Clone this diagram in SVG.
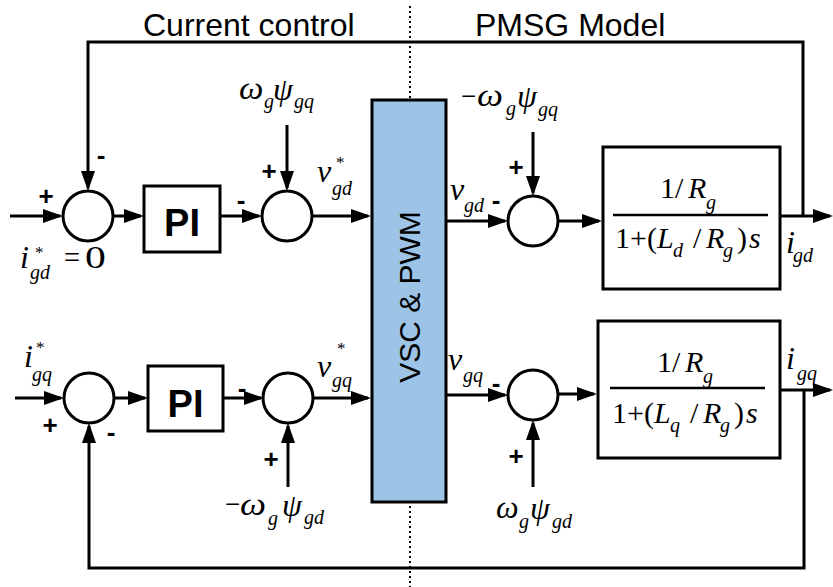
<svg xmlns="http://www.w3.org/2000/svg" width="833" height="587" viewBox="0 0 833 587">
<style>
.ln{stroke:#000;stroke-width:3;fill:none}
.ar{marker-end:url(#ah)}
.sum{fill:#fff;stroke:#000;stroke-width:3}
.box{fill:#fff;stroke:#000;stroke-width:3}
.frac{stroke:#000;stroke-width:2.5}
.sign{font-family:"Liberation Sans",Arial,sans-serif;font-weight:bold;font-size:26px;text-anchor:middle}
.ttl{font-family:"Liberation Sans",Arial,sans-serif;font-size:32px}
.pi{font-family:"Liberation Sans",Arial,sans-serif;font-weight:bold;font-size:38px;text-anchor:middle}
.m{font-family:"Liberation Serif","Times New Roman",serif;font-style:italic;font-size:32px}
.w{font-family:"Liberation Serif","Times New Roman",serif;font-style:italic;font-size:32px}
.f{font-family:"Liberation Serif","Times New Roman",serif;font-style:italic;font-size:30px}
.up{font-style:normal}
.sub{font-size:20px}
.st{font-size:17px;font-style:normal}
.mn{font-family:"Liberation Serif","Times New Roman",serif;font-size:27px}
</style>
<defs>
<marker id="ah" markerUnits="userSpaceOnUse" markerWidth="20" markerHeight="14" refX="17" refY="7" orient="auto">
<path d="M0,0 L20,7 L0,14 Z" fill="#000"/>
</marker>
</defs>
<rect width="833" height="587" fill="#fff"/>

<g id="titles">
<text class="ttl" x="143" y="36">Current control</text>
<text class="ttl" x="475" y="36">PMSG Model</text>
</g>
<g id="divider">
<line x1="410" y1="6" x2="410" y2="587" stroke="#000" stroke-width="2" stroke-dasharray="2 3"/>
</g>

<g id="connectors">
<path class="ln ar" d="M10,216 H60"/>
<path class="ln ar" d="M113,216 H141"/>
<path class="ln ar" d="M220,216 H259"/>
<path class="ln ar" d="M312,216 H368"/>
<path class="ln ar" d="M287,125 V188"/>
<path class="ln ar" d="M446,221 H505"/>
<path class="ln ar" d="M533,132 V193"/>
<path class="ln ar" d="M558,221 H599"/>
<path class="ln ar" d="M780,216 H830"/>
<path class="ln ar" d="M803,216 V42 H88 V188"/>
<path class="ln ar" d="M15,398 H61"/>
<path class="ln ar" d="M114,398 H145"/>
<path class="ln ar" d="M223,398 H261"/>
<path class="ln ar" d="M314,398 H368"/>
<path class="ln ar" d="M288,487 V426"/>
<path class="ln ar" d="M446,395 H505"/>
<path class="ln ar" d="M533,487 V423"/>
<path class="ln ar" d="M558,394 H594"/>
<path class="ln ar" d="M780,390 H830"/>
<path class="ln ar" d="M804,390 V568 H89 V426"/>
</g>

<g id="sum1"><circle class="sum" cx="88" cy="216" r="25"/></g>
<g id="sum2"><circle class="sum" cx="287" cy="216" r="25"/></g>
<g id="sum3"><circle class="sum" cx="533" cy="221" r="25"/></g>
<g id="sum4"><circle class="sum" cx="89" cy="398" r="25"/></g>
<g id="sum5"><circle class="sum" cx="288" cy="398" r="25"/></g>
<g id="sum6"><circle class="sum" cx="533" cy="395" r="25"/></g>

<g id="pi-d"><rect class="box" x="144" y="186" width="76" height="66"/><text class="pi" x="182" y="236">PI</text></g>
<g id="pi-q"><rect class="box" x="148" y="366" width="75" height="65"/><text class="pi" x="185.5" y="417">PI</text></g>

<g id="vsc">
<rect x="372" y="100" width="74" height="402" fill="#9DC3E6" stroke="#000" stroke-width="3"/>
<text class="ttl" style="font-size:30px" text-anchor="middle" transform="translate(420,297) rotate(-90)">VSC &amp; PWM</text>
</g>

<g id="tf-d">
<rect class="box" x="603" y="147" width="177" height="142"/>
<text class="f"><tspan class="up" x="660" y="198">1/</tspan><tspan x="688" y="198">R</tspan><tspan class="sub" x="706" y="209">g</tspan></text>
<line class="frac" x1="613" y1="215" x2="768" y2="215"/>
<text class="f"><tspan class="up" x="615" y="248">1+(</tspan><tspan x="657" y="248">L</tspan><tspan class="sub" x="673" y="257">d</tspan><tspan class="up" x="693" y="248">/</tspan><tspan x="706" y="248">R</tspan><tspan class="sub" x="723" y="257">g</tspan><tspan class="up" x="737" y="248">)</tspan><tspan x="749" y="248">s</tspan></text>
</g>

<g id="tf-q">
<rect class="box" x="598" y="321" width="182" height="137"/>
<g transform="translate(-3,174)">
<text class="f"><tspan class="up" x="660" y="198">1/</tspan><tspan x="688" y="198">R</tspan><tspan class="sub" x="706" y="209">g</tspan></text>
<line class="frac" x1="613" y1="214" x2="768" y2="214"/>
<text class="f"><tspan class="up" x="615" y="249">1+(</tspan><tspan x="657" y="249">L</tspan><tspan class="sub" x="673" y="258">q</tspan><tspan class="up" x="693" y="249">/</tspan><tspan x="706" y="249">R</tspan><tspan class="sub" x="723" y="258">g</tspan><tspan class="up" x="737" y="249">)</tspan><tspan x="749" y="249">s</tspan></text>
</g>
</g>

<g id="label-wgpsigq-top">
<text class="w" transform="translate(239,99) scale(1.08,1)">ω</text>
<text class="m sub" x="264" y="108">g</text>
<text class="m" x="273" y="100">ψ</text>
<text class="m sub" x="294" y="108">gq</text>
</g>
<g id="label-mwgpsigq">
<text class="mn" x="461" y="105">−</text>
<text class="w" transform="translate(477,106) scale(1.15,1)">ω</text>
<text class="m sub" x="506" y="115">g</text>
<text class="m" x="517" y="107">ψ</text>
<text class="m sub" x="538" y="116">gq</text>
</g>
<g id="label-mwgpsigd">
<text class="mn" x="225" y="513">−</text>
<text class="w" transform="translate(240,515) scale(1.15,1)">ω</text>
<text class="m sub" x="268" y="525">g</text>
<text class="m" x="282" y="516">ψ</text>
<text class="m sub" x="304" y="524">gd</text>
</g>
<g id="label-wgpsigd">
<text class="w" transform="translate(496,518)">ω</text>
<text class="m sub" x="519" y="528">g</text>
<text class="m" x="530" y="519">ψ</text>
<text class="m sub" x="552" y="528">gd</text>
</g>

<g id="labels-v">
<text class="m"><tspan x="317" y="182">v</tspan><tspan class="st" x="336" y="168">*</tspan><tspan class="sub" x="332" y="195">gd</tspan></text>
<text class="m"><tspan x="317" y="377">v</tspan><tspan class="st" x="337" y="354">*</tspan><tspan class="sub" x="332" y="387">gq</tspan></text>
<text class="m"><tspan x="450" y="200">v</tspan><tspan class="sub" x="464" y="212">gd</tspan></text>
<text class="m"><tspan x="448" y="370">v</tspan><tspan class="sub" x="463" y="382">gq</tspan></text>
</g>

<g id="labels-i">
<text class="m"><tspan x="20" y="268">i</tspan><tspan class="st" x="35" y="258">*</tspan><tspan class="sub" x="30" y="279">gd</tspan></text>
<text class="m up" x="64" y="268" textLength="16" lengthAdjust="spacingAndGlyphs">=</text>
<text class="m up" transform="translate(85,268) scale(1.3,1)">0</text>
<text class="m"><tspan x="24" y="367">i</tspan><tspan class="st" x="36" y="353">*</tspan><tspan class="sub" x="32" y="381">gq</tspan></text>
<text class="m"><tspan x="786" y="253">i</tspan><tspan class="sub" x="793" y="262">gd</tspan></text>
<text class="m"><tspan x="786" y="369">i</tspan><tspan class="sub" x="797" y="380">gq</tspan></text>
</g>

<g id="signs">
<text class="sign" x="46" y="205">+</text>
<text class="sign" x="101" y="164">-</text>
<text class="sign" x="241" y="209">-</text>
<text class="sign" x="269" y="180">+</text>
<text class="sign" x="496" y="209">-</text>
<text class="sign" x="516" y="176">+</text>
<text class="sign" x="50" y="434">+</text>
<text class="sign" x="111" y="441">-</text>
<text class="sign" x="242" y="397">-</text>
<text class="sign" x="271" y="468">+</text>
<text class="sign" x="496" y="392">-</text>
<text class="sign" x="516" y="465">+</text>
</g>
</svg>
